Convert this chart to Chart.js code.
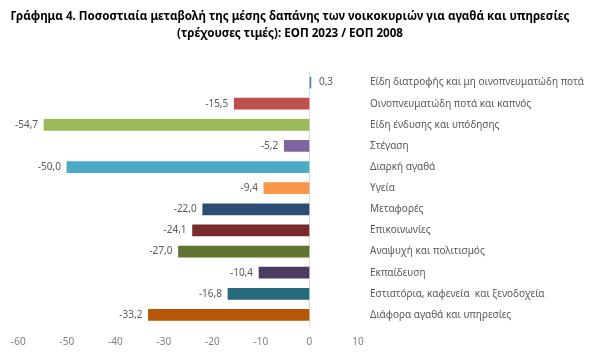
<!DOCTYPE html>
<html><head><meta charset="utf-8">
<script src="https://cdn.jsdelivr.net/npm/chart.js@4"></script>
<style>html,body{margin:0;padding:0;background:#fff}#wrap{width:600px;height:356px}</style>
</head><body><div id="wrap"><canvas id="c"></canvas></div>
<script>
const titleLines = ["Γράφημα 4. Ποσοστιαία μεταβολή της μέσης δαπάνης των νοικοκυριών για αγαθά και υπηρεσίες", "(τρέχουσες τιμές): ΕΟΠ 2023 / ΕΟΠ 2008"];
const categories = ["Είδη διατροφής και μη οινοπνευματώδη ποτά","Οινοπνευματώδη ποτά και καπνός","Είδη ένδυσης και υπόδησης","Στέγαση","Διαρκή αγαθά","Υγεία","Μεταφορές","Επικοινωνίες","Αναψυχή και πολιτισμός","Εκπαίδευση","Εστιατόρια, καφενεία  και ξενοδοχεία","Διάφορα αγαθά και υπηρεσίες"];
const values = [0.3,-15.5,-54.7,-5.2,-50.0,-9.4,-22.0,-24.1,-27.0,-10.4,-16.8,-33.2];
const xTicks = [-60,-50,-40,-30,-20,-10,0,10];
const palette = ["#4F81BD","#C0504D","#9BBB59","#8064A2","#4BACC6","#F79646","#2C4D75","#772C2A","#5F7530","#4D3B62","#276A7C","#B65708"];
const FONT = "'Noto Sans', sans-serif";
const fmt = v => v.toFixed(1).replace('.', ',');

const titleDraw = {
  id: 'titleDraw',
  afterDraw(chart) {
    const ctx = chart.ctx;
    ctx.save();
    ctx.font = "bold 11.6px " + FONT;
    ctx.fillStyle = "#000";
    ctx.textAlign = "center";
    ctx.textBaseline = "middle";
    ctx.fillText(titleLines[0], 290, 17);
    ctx.fillText(titleLines[1], 290, 34);
    ctx.restore();
  }
};

const valueLabels = {
  id: 'valueLabels',
  afterDatasetsDraw(chart) {
    const ctx = chart.ctx;
    const meta = chart.getDatasetMeta(0);
    ctx.save();
    ctx.font = "10px " + FONT;
    ctx.fillStyle = "#595959";
    ctx.textBaseline = "middle";
    meta.data.forEach((el, i) => {
      const v = values[i];
      if (v < 0) { ctx.textAlign = "right"; ctx.fillText(fmt(v), el.x - 6, el.y); }
      else { ctx.textAlign = "left"; ctx.fillText(fmt(v), el.x + 8, el.y); }
    });
    ctx.restore();
  }
};

new Chart(document.getElementById('c'), {
  type: 'bar',
  data: { labels: categories, datasets: [{ data: values, backgroundColor: palette, barThickness: 11 }] },
  options: {
    indexAxis: 'y',
    responsive: true, maintainAspectRatio: false, animation: false,
    layout: { padding: { left: 17, right: 0, top: 72, bottom: 8 } },
    plugins: { legend: { display: false }, tooltip: { enabled: false }, title: { display: false } },
    scales: {
      x: {
        min: -60, max: 10,
        afterBuildTicks: s => { s.ticks = xTicks.map(v => ({ value: v })); },
        afterFit: s => { s.height = 22.5; },
        grid: { drawTicks: false, color: c => c.tick && c.tick.value === 0 ? "#D9D9D9" : "transparent", lineWidth: 1 },
        border: { display: false },
        ticks: { color: "#7F7F7F", font: { family: FONT, size: 10 }, padding: 11 }
      },
      y: {
        position: 'right',
        afterFit: s => { s.width = 242; },
        grid: { display: false, drawTicks: false },
        border: { display: false },
        ticks: { color: "#595959", font: { family: FONT, size: 10 }, padding: 12, crossAlign: 'near' }
      }
    }
  },
  plugins: [valueLabels, titleDraw]
});
</script></body></html>
